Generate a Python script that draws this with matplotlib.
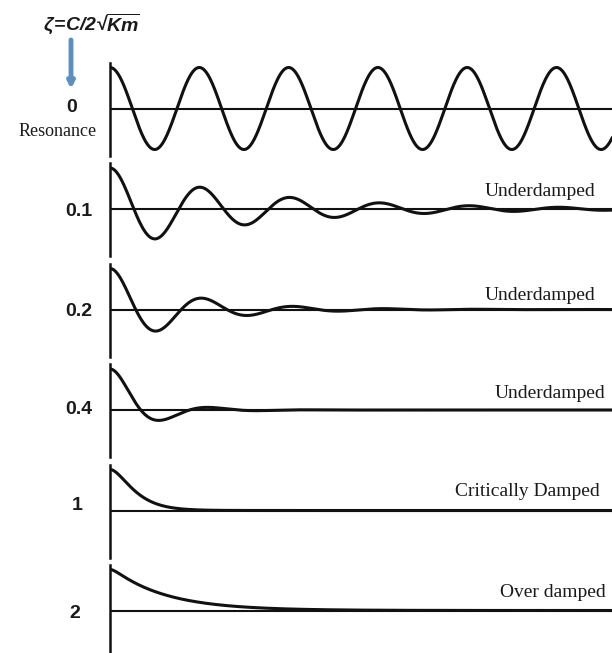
import numpy as np
import matplotlib
matplotlib.use("Agg")
import matplotlib.pyplot as plt

# ---- data ----
zeta = [0, 0.1, 0.2, 0.4, 1, 2]
zeta_labels = ["0", "0.1", "0.2", "0.4", "1", "2"]
regime_labels = ["Resonance", "Underdamped", "Underdamped", "Underdamped",
                 "Critically Damped", "Over damped"]
title = r"$\zeta\!=\!C/2$" + "\u221a" + r"$\overline{Km}$"

plt.rcParams["mathtext.fontset"] = "custom"
plt.rcParams["mathtext.rm"] = "Liberation Sans:italic:bold"
plt.rcParams["mathtext.it"] = "Liberation Sans:italic:bold"
plt.rcParams["mathtext.bf"] = "Liberation Sans:italic:bold"

W, H = 612, 653
fig = plt.figure(figsize=(W / 100, H / 100), dpi=100)

# ---- layout (pixels) ----
baselines = [108.5, 209, 309.5, 410, 510.5, 610.5]
x0, x1 = 110, 612
period_px = 89.3
t_max = 2 * np.pi * (x1 - x0) / period_px
amp = 41
top, bot = 46, 47


def response(z, t):
    if z < 1:
        wd = np.sqrt(1 - z ** 2)
        return np.exp(-z * t) * (np.cos(wd * t) + z / wd * np.sin(wd * t))
    if z == 1:
        return (1 + t) * np.exp(-t)
    s = np.sqrt(z ** 2 - 1)
    r1, r2 = -z + s, -z - s
    return (r2 * np.exp(r1 * t) - r1 * np.exp(r2 * t)) / (r2 - r1)


t = np.linspace(0, t_max, 3000)
for i, z in enumerate(zeta):
    b = baselines[i]
    ax = fig.add_axes([x0 / W, 1 - (b + bot) / H, (x1 - x0) / W, (top + bot) / H])
    ax.plot(t, amp * response(z, t), color="#111111", lw=2.2)
    ax.axhline(0, color="#111111", lw=1.5)
    ax.set_xlim(0, t_max)
    ax.set_ylim(-bot, top)
    for side in ["top", "right", "bottom"]:
        ax.spines[side].set_visible(False)
    ax.spines["left"].set_linewidth(1.8)
    ax.spines["left"].set_color("#111111")
    ax.set_xticks([])
    ax.set_yticks([])
    ax.patch.set_alpha(0)

# overlay for annotations in pixel coordinates
ov = fig.add_axes([0, 0, 1, 1])
ov.set_xlim(0, W)
ov.set_ylim(H, 0)
ov.axis("off")
ov.patch.set_alpha(0)

left_pos = [(72, 107), (79, 211), (79, 311), (79, 410), (77, 506), (75, 613)]
for (lx, ly), lab in zip(left_pos, zeta_labels):
    ov.text(lx, ly, lab, ha="center", va="center", fontsize=14,
            fontweight="bold", family="Liberation Sans", color="#1a1a1a")

ov.text(58, 131, regime_labels[0], ha="center", va="center", fontsize=13,
        family="Liberation Serif", color="#1a1a1a")

right_pos = [(595, 191.7), (595, 295), (605, 394), (600, 491.7), (606, 592.7)]
for (rx, ry), lab in zip(right_pos, regime_labels[1:]):
    ov.text(rx, ry, lab, ha="right", va="center", fontsize=14,
            family="Liberation Serif", color="#1a1a1a")

ov.text(91, 24, title, ha="center", va="center", fontsize=14, color="#1a1a1a",
        family=["Liberation Sans", "DejaVu Sans"], fontweight="bold",
        fontstyle="italic")

ov.annotate("", xy=(71, 89), xytext=(71, 40),
            arrowprops=dict(arrowstyle="-|>", lw=3.5, color="#5b8fc0",
                            mutation_scale=9, shrinkA=0, shrinkB=0))

fig.savefig("out.png", dpi=100)
